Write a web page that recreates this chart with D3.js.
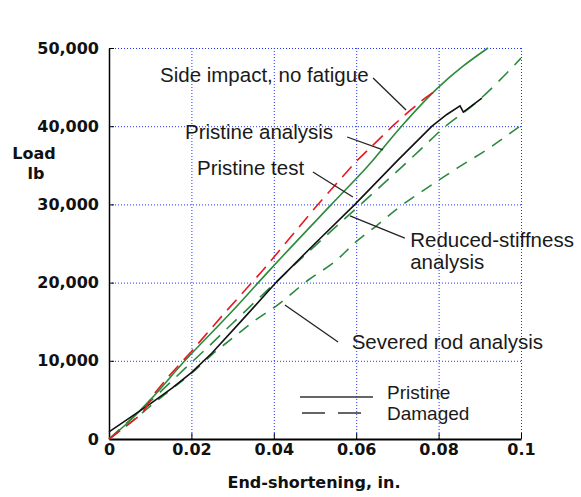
<!DOCTYPE html>
<html>
<head>
<meta charset="utf-8">
<script src="https://cdn.jsdelivr.net/npm/d3@7"></script>
<style>
	body { margin: 0; background: #fff; }
	svg { display: block; }
</style>
</head>
<body>
<div id="chart"></div>
<script>
// Axis ticks
const xTicks = [0, 0.02, 0.04, 0.06, 0.08, 0.1]
const yTicks = [0, 10000, 20000, 30000, 40000, 50000]

// Curves, [end-shortening in., load lb]
const sideImpactTest = [
	[0, 0], [0.005, 2000], [0.008, 3200], [0.011, 5800], [0.0143, 7900],
	[0.02, 11200], [0.0282, 16200], [0.0374, 21600], [0.0507, 30000],
	[0.06, 35500], [0.069, 40100], [0.0726, 41800], [0.0767, 43600],
	[0.0803, 44900],
]
const pristineAnalysis = [
	[0, 0], [0.005, 2300], [0.01, 5000], [0.0184, 10000], [0.03, 16400],
	[0.039, 21600], [0.054, 30000], [0.063, 35000], [0.071, 40000],
	[0.08, 45000], [0.086, 47700], [0.092, 50000],
]
const pristineTest = [
	[0, 900], [0.005, 2700], [0.01, 4500], [0.0153, 6500], [0.02, 8500],
	[0.025, 11000], [0.0323, 15200], [0.0407, 20100], [0.05, 25000],
	[0.0597, 30000], [0.07, 35600], [0.0784, 40000], [0.082, 41500],
	[0.0852, 42600], [0.086, 41800], [0.0905, 43600],
]
const reducedStiffness = [
	[0, 0], [0.005, 2400], [0.01, 4800], [0.018, 8800], [0.0233, 11400],
	[0.03, 14800], [0.04, 19800], [0.05, 24700], [0.0617, 30300],
	[0.0711, 34800], [0.0762, 37300], [0.081, 39700], [0.0893, 43100],
	[0.0944, 45650], [0.1, 48700],
]
const severedRod = [
	[0, 0], [0.005, 2000], [0.01, 4200], [0.015, 6300], [0.02, 8400],
	[0.025, 10800], [0.03, 12900], [0.035, 15000], [0.0408, 17100],
	[0.0483, 20300], [0.0553, 22900], [0.0597, 25100], [0.065, 27300],
	[0.0706, 29700], [0.0755, 31500], [0.0847, 34700], [0.0917, 37000],
	[0.1, 40100],
]

const width = 581
const height = 497
const margin = { top: 48, right: 60, bottom: 58, left: 109 }

const svg = d3
	.select("#chart")
	.append("svg")
	.attr("width", width)
	.attr("height", height)

const xScale = d3
	.scaleLinear()
	.domain([0, 0.1])
	.range([margin.left, width - margin.right])

const yScale = d3
	.scaleLinear()
	.domain([0, 50000])
	.range([height - margin.bottom, margin.top])

const plotH = height - margin.bottom - margin.top
const plotW = width - margin.right - margin.left

// Dotted blue grid
const gridStyle = (g) => {
	g.select(".domain").remove()
	g.selectAll("line")
		.attr("stroke", "#2233ff")
		.attr("stroke-width", 1)
		.attr("stroke-dasharray", "1,2")
}

svg.append("g")
	.attr("transform", `translate(0,${height - margin.bottom})`)
	.call(
		d3.axisBottom(xScale).tickValues(xTicks.slice(1))
			.tickSize(-plotH).tickFormat("")
	)
	.call(gridStyle)

svg.append("g")
	.attr("transform", `translate(${margin.left},0)`)
	.call(
		d3.axisLeft(yScale).tickValues(yTicks.slice(1))
			.tickSize(-plotW).tickFormat("")
	)
	.call(gridStyle)

// Axes
const labelFont = (g) => {
	g.selectAll("text")
		.attr("fill", "#111")
		.style("font-family", "'DejaVu Sans', sans-serif")
		.style("font-weight", "bold")
		.style("font-size", "16px")
}

svg.append("g")
	.attr("transform", `translate(${margin.left},0)`)
	.call(
		d3.axisLeft(yScale).tickValues(yTicks).tickSize(-5)
			.tickSizeOuter(0).tickPadding(10).tickFormat(d3.format(","))
	)
	.call((g) => g.select(".domain").attr("stroke-width", 1.5))
	.call(labelFont)

svg.append("g")
	.attr("transform", `translate(0,${height - margin.bottom})`)
	.call(
		d3.axisBottom(xScale).tickValues(xTicks).tickSize(-6)
			.tickSizeOuter(0).tickPadding(5).tickFormat((d) => String(d))
	)
	.call((g) => g.select(".domain").attr("stroke-width", 2.2))
	.call(labelFont)

// Axis titles
const boldTitle = (x, y, t) =>
	svg.append("text")
		.attr("x", x)
		.attr("y", y)
		.attr("text-anchor", "middle")
		.attr("fill", "#111")
		.style("font-family", "'DejaVu Sans', sans-serif")
		.style("font-weight", "bold")
		.style("font-size", "16px")
		.text(t)

boldTitle(314, 488, "End-shortening, in.")
boldTitle(34, 159, "Load")
boldTitle(36, 179, "lb")

// Curves
const smooth = d3
	.line()
	.x((d) => xScale(d[0]))
	.y((d) => yScale(d[1]))
	.curve(d3.curveMonotoneX)

const rough = d3
	.line()
	.x((d) => xScale(d[0]))
	.y((d) => yScale(d[1]))

const green = "#2b8a3c"
const curves = [
	{ data: severedRod, gen: smooth, color: green, dash: "12,9" },
	{ data: reducedStiffness, gen: smooth, color: green, dash: "14,9" },
	{ data: pristineAnalysis, gen: smooth, color: green, dash: null },
	{ data: pristineTest, gen: rough, color: "#111", dash: null },
	{ data: sideImpactTest, gen: rough, color: "#e8191e", dash: "14,8" },
]

curves.forEach((c) => {
	svg.append("path")
		.datum(c.data)
		.attr("fill", "none")
		.attr("stroke", c.color)
		.attr("stroke-width", 1.6)
		.attr("stroke-dasharray", c.dash)
		.attr("d", c.gen)
})

// Annotations with leader lines
const notes = [
	{ lines: ["Side impact, no fatigue"], at: [0.01238, 46550], from: [0.0641, 46160], to: [0.0721, 42070] },
	{ lines: ["Pristine analysis"], at: [0.01845, 39260], from: [0.0578, 38620], to: [0.0665, 36960] },
	{ lines: ["Pristine test"], at: [0.02136, 34650], from: [0.0495, 34140], to: [0.0592, 30950] },
	{ lines: ["Reduced-stiffness", "analysis"], at: [0.0731, 25450], from: [0.0585, 28520], to: [0.0718, 25700] },
	{ lines: ["Severed rod analysis"], at: [0.0589, 12400], from: [0.0427, 17140], to: [0.0556, 12400] },
]

notes.forEach((n) => {
	svg.append("line")
		.attr("x1", xScale(n.from[0]))
		.attr("y1", yScale(n.from[1]))
		.attr("x2", xScale(n.to[0]))
		.attr("y2", yScale(n.to[1]))
		.attr("stroke", "#222")
		.attr("stroke-width", 1.3)

	n.lines.forEach((t, i) => {
		svg.append("text")
			.attr("x", xScale(n.at[0]))
			.attr("y", yScale(n.at[1]) + i * 22)
			.attr("dy", "0.35em")
			.attr("fill", "#1a1a1a")
			.style("font-family", "'Liberation Sans', Arial, sans-serif")
			.style("font-size", "20.5px")
			.text(t)
	})
})

// Legend
const legendItems = [
	{ label: "Pristine", dash: null },
	{ label: "Damaged", dash: "23,13" },
]

const legend = svg.append("g").attr("transform", "translate(300,397)")

legendItems.forEach((item, i) => {
	const row = legend.append("g").attr("transform", `translate(0,${i * 16})`)
	row.append("line")
		.attr("x1", item.dash ? 2 : 0)
		.attr("x2", item.dash ? 62 : 73)
		.attr("stroke", "#333")
		.attr("stroke-width", 1.5)
		.attr("stroke-dasharray", item.dash)
	row.append("text")
		.attr("x", 87)
		.attr("y", i === 0 ? -5 : 0)
		.attr("dy", "0.35em")
		.attr("fill", "#1a1a1a")
		.style("font-family", "'Liberation Sans', Arial, sans-serif")
		.style("font-size", "19px")
		.text(item.label)
})
</script>
</body>
</html>
